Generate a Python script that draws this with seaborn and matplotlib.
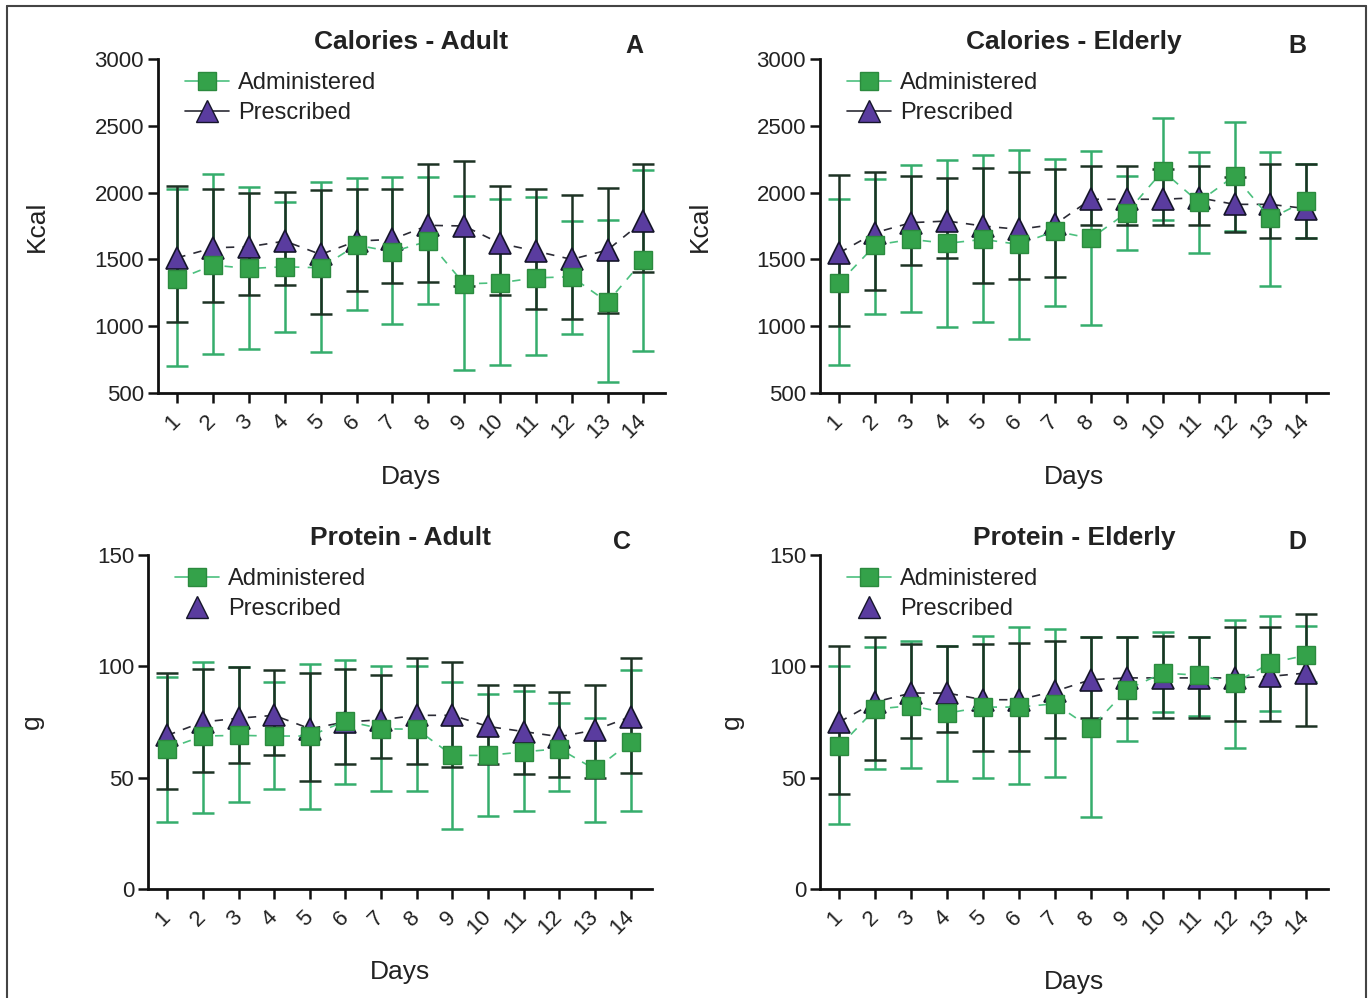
import numpy as np
import pandas as pd
import matplotlib
matplotlib.use('Agg')
import matplotlib.pyplot as plt
import seaborn as sns
from matplotlib.lines import Line2D

days = list(range(1, 15))
day_labels = [str(d) for d in days]

# Panel A - Calories Adult (Kcal)
cal_adult_adm = [1350, 1457, 1432, 1445, 1437, 1607, 1557, 1637, 1317, 1325, 1362, 1370, 1180, 1495]
cal_adult_adm_low = [705, 792, 832, 957, 807, 1120, 1020, 1167, 670, 712, 782, 945, 580, 817]
cal_adult_adm_high = [2025, 2137, 2042, 1932, 2080, 2107, 2117, 2120, 1975, 1955, 1967, 1787, 1792, 2170]
cal_adult_pre = [1512, 1587, 1595, 1637, 1537, 1637, 1650, 1755, 1750, 1620, 1562, 1500, 1570, 1787]
cal_adult_pre_low = [1030, 1182, 1235, 1307, 1095, 1267, 1322, 1332, 1300, 1235, 1130, 1057, 1100, 1405]
cal_adult_pre_high = [2050, 2030, 1995, 2005, 2017, 2030, 2030, 2217, 2237, 2050, 2025, 1980, 2037, 2217]

# Panel B - Calories Elderly (Kcal)
cal_eld_adm = [1325, 1607, 1650, 1620, 1650, 1612, 1712, 1657, 1850, 2162, 1930, 2125, 1807, 1940]
cal_eld_adm_low = [712, 1095, 1107, 995, 1030, 905, 1150, 1007, 1570, 1792, 1550, 1710, 1300, 1662]
cal_eld_adm_high = [1955, 2105, 2205, 2242, 2280, 2317, 2255, 2310, 2125, 2555, 2305, 2530, 2305, 2217]
cal_eld_pre = [1550, 1700, 1775, 1787, 1750, 1725, 1762, 1950, 1950, 1950, 1962, 1912, 1912, 1880]
cal_eld_pre_low = [1000, 1270, 1455, 1507, 1320, 1357, 1370, 1757, 1757, 1757, 1757, 1707, 1662, 1662]
cal_eld_pre_high = [2130, 2157, 2125, 2112, 2185, 2157, 2180, 2200, 2200, 2175, 2200, 2120, 2217, 2217]

# Panel C - Protein Adult (g)
prot_adult_adm = [63, 68.7, 69, 68.7, 68.7, 75.5, 72, 71.7, 60, 60, 61.6, 63, 53.7, 66]
prot_adult_adm_low = [30, 34, 39, 45, 36, 47, 44, 44, 27, 33, 35, 44, 30, 35]
prot_adult_adm_high = [95, 102, 99.5, 93, 101, 103, 100, 100, 93, 87.7, 89, 83.7, 77, 98.5]
prot_adult_pre = [69, 75, 76.7, 78, 72, 75, 76, 78, 78, 73, 70.7, 68.4, 71.4, 77.4]
prot_adult_pre_low = [44.7, 52.6, 56.7, 60, 48.4, 56, 59, 56, 55, 56, 51.6, 50.4, 50, 52]
prot_adult_pre_high = [97, 98.8, 99.5, 98.5, 97, 98.8, 96, 103.7, 102, 91.7, 91.7, 88.4, 91.7, 103.7]

# Panel D - Protein Elderly (g)
prot_eld_adm = [64, 80.8, 82.3, 79, 81.7, 81.7, 83.2, 72.3, 89.5, 97, 96, 92.5, 101.5, 105]
prot_eld_adm_low = [29, 53.8, 54.3, 48.6, 50, 47, 50.5, 32.5, 66.6, 79.3, 77.5, 63.3, 79.8, 93]
prot_eld_adm_high = [100, 108.7, 111.5, 109, 113.8, 117.5, 116.8, 113, 113, 115.3, 113, 121, 122.8, 118.3]
prot_eld_pre = [75, 84, 88, 88, 85, 85, 88.8, 94, 94.8, 94.8, 94.8, 94.8, 95.5, 97]
prot_eld_pre_low = [42.6, 58, 67.8, 70.5, 62, 61.8, 68, 77, 77, 77, 77, 75.6, 75.6, 73.3]
prot_eld_pre_high = [109, 113, 110, 109.3, 110, 110.5, 111.5, 113, 113, 113.5, 113, 117.5, 117.5, 123.5]

sns.set_style('ticks')
plt.rcParams['font.family'] = ['Liberation Sans', 'DejaVu Sans']

GREEN = '#34a24a'
GREEN_EDGE = '#2b8a3e'
GREEN_BAR = '#35ad6c'
PURPLE = '#5a3c9f'
DARK = '#1d3224'
TXT = '#222'


def draw_panel(ax, adm, adm_lo, adm_hi, pre, pre_lo, pre_hi, title, letter, ylabel,
               ylim, yticks, tri_line_in_legend, ylab_x, xlab_y):
    df = pd.DataFrame({'day': days, 'adm': adm, 'pre': pre})
    adm = np.array(adm); pre = np.array(pre)
    ax.errorbar(days, adm, yerr=[adm - np.array(adm_lo), np.array(adm_hi) - adm],
                fmt='none', ecolor=GREEN_BAR, elinewidth=1.8, capsize=8, capthick=1.8, zorder=2)
    ax.errorbar(days, pre, yerr=[pre - np.array(pre_lo), np.array(pre_hi) - pre],
                fmt='none', ecolor=DARK, elinewidth=1.8, capsize=8, capthick=1.8, zorder=3)
    sns.lineplot(data=df, x='day', y='pre', ax=ax, color='#2b2b35', linestyle=(0, (5, 5)),
                 linewidth=1.2, marker='^', markersize=16, markerfacecolor=PURPLE,
                 markeredgecolor='#15152a', markeredgewidth=1.2, zorder=4)
    sns.lineplot(data=df, x='day', y='adm', ax=ax, color='#4cc07e', linestyle=(0, (5, 5)),
                 linewidth=1.2, marker='s', markersize=13, markerfacecolor=GREEN,
                 markeredgecolor=GREEN_EDGE, markeredgewidth=1.0, zorder=5)

    ax.set_xlim(0.46, 14.6)
    ax.set_ylim(*ylim)
    ax.set_yticks(yticks)
    ax.set_xticks(days)
    ax.set_xticklabels(day_labels, rotation=45, ha='right', va='center',
                       rotation_mode='anchor', fontsize=16, color=TXT)
    ax.tick_params(axis='x', pad=11)
    ax.tick_params(axis='y', labelsize=16, labelcolor=TXT, pad=3)
    ax.tick_params(direction='out', length=7, width=1.8, color='#111')
    for s in ['left', 'bottom']:
        ax.spines[s].set_linewidth(2.0)
        ax.spines[s].set_color('#111')
    sns.despine(ax=ax)

    ax.set_title(title, fontsize=19, fontweight='bold', pad=7, color=TXT)
    ax.text(0.94, 1.04, letter, transform=ax.transAxes, fontsize=18, fontweight='bold',
            ha='center', va='center', color=TXT)
    ax.set_ylabel(ylabel, fontsize=19, color=TXT)
    ax.yaxis.set_label_coords(ylab_x, 0.5)
    ax.set_xlabel('Days', fontsize=19, color=TXT)
    ax.xaxis.set_label_coords(0.5, xlab_y)

    h_adm = Line2D([], [], color='#4cc07e', linewidth=1.2, marker='s', markersize=13,
                   markerfacecolor=GREEN, markeredgecolor=GREEN_EDGE)
    if tri_line_in_legend:
        h_pre = Line2D([], [], color='#2b2b35', linewidth=1.2, marker='^', markersize=16,
                       markerfacecolor=PURPLE, markeredgecolor='#15152a')
    else:
        h_pre = Line2D([], [], linestyle='none', marker='^', markersize=16,
                       markerfacecolor=PURPLE, markeredgecolor='#15152a')
    leg = ax.legend([h_adm, h_pre], ['Administered', 'Prescribed'], loc='upper left',
                    bbox_to_anchor=(0.02, 1.01), frameon=False, fontsize=17, handlelength=1.9,
                    handletextpad=0.35, labelspacing=0.35, borderaxespad=0.3)
    for t in leg.get_texts():
        t.set_color(TXT)


fig = plt.figure(figsize=(13.7, 9.98), dpi=100)
ax_a = fig.add_axes([0.1153, 0.6062, 0.370, 0.3347])
ax_b = fig.add_axes([0.5985, 0.6062, 0.3708, 0.3347])
ax_c = fig.add_axes([0.1080, 0.1092, 0.368, 0.3347])
ax_d = fig.add_axes([0.5985, 0.1092, 0.3708, 0.3347])

cal_ticks = [500, 1000, 1500, 2000, 2500, 3000]
prot_ticks = [0, 50, 100, 150]

draw_panel(ax_a, cal_adult_adm, cal_adult_adm_low, cal_adult_adm_high,
           cal_adult_pre, cal_adult_pre_low, cal_adult_pre_high,
           'Calories - Adult', 'A', 'Kcal', (500, 3000), cal_ticks, True, -0.215, -0.216)
draw_panel(ax_b, cal_eld_adm, cal_eld_adm_low, cal_eld_adm_high,
           cal_eld_pre, cal_eld_pre_low, cal_eld_pre_high,
           'Calories - Elderly', 'B', 'Kcal', (500, 3000), cal_ticks, True, -0.212, -0.216)
draw_panel(ax_c, prot_adult_adm, prot_adult_adm_low, prot_adult_adm_high,
           prot_adult_pre, prot_adult_pre_low, prot_adult_pre_high,
           'Protein - Adult', 'C', 'g', (0, 150), prot_ticks, False, -0.206, -0.213)
draw_panel(ax_d, prot_eld_adm, prot_eld_adm_low, prot_eld_adm_high,
           prot_eld_pre, prot_eld_pre_low, prot_eld_pre_high,
           'Protein - Elderly', 'D', 'g', (0, 150), prot_ticks, False, -0.15, -0.243)

# outer frame of the figure
for xs, ys in [([0.005, 0.005], [0.0, 0.994]), ([0.005, 0.997], [0.994, 0.994]),
               ([0.997, 0.997], [0.0, 0.994])]:
    fig.add_artist(Line2D(xs, ys, transform=fig.transFigure, color='#444', linewidth=1.5))

fig.savefig('out.png', dpi=100)
